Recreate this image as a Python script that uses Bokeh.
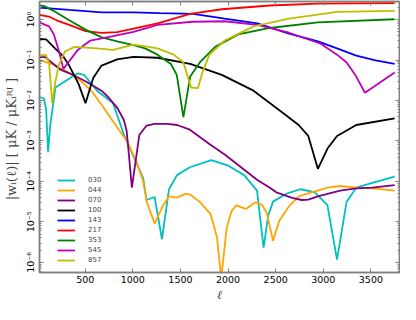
from bokeh.plotting import figure
from bokeh.models import (Range1d, FixedTicker, CustomJSTickFormatter, LinearAxis,
                          LogAxis, Legend, LegendItem)
from bokeh.embed import file_html
from bokeh.resources import INLINE

# ---------------- data ----------------
x_ticks = [500, 1000, 1500, 2000, 2500, 3000, 3500]
y_ticks = [1e-6, 1e-5, 1e-4, 1e-3, 1e-2, 1e-1, 1e0]
y_minor = [m * d for d in [1e-7, 1e-6, 1e-5, 1e-4, 1e-3, 1e-2, 1e-1, 1e0] for m in range(2, 10)]

labels = ["030", "044", "070", "100", "143", "217", "353", "545", "857"]
colors = ["#00bfbf", "#ffa500", "#800080", "#000000", "#0000ff", "#ff0000", "#008000", "#bf00bf", "#bfbf00"]

ell_030 = [19, 67, 90, 110, 133, 188, 288, 422, 490, 624, 792, 906, 1007, 1108, 1145, 1229, 1306, 1380,
           1464, 1599, 1824, 2002, 2169, 2304, 2373, 2421, 2472, 2607, 2758, 2909, 3043, 3144, 3245,
           3346, 3514, 3749]
w_030 = [0.0122, 0.0112, 0.0059, 0.00054, 0.0025, 0.021, 0.030, 0.0469, 0.0428, 0.0175, 0.0086, 0.00145,
         4.17e-4, 1.2e-4, 3.47e-5, 4.12e-5, 3.72e-6, 6.4e-5, 1.43e-4, 2.24e-4, 3.37e-4, 2.45e-4, 1.43e-4,
         5.9e-5, 2.3e-6, 1.41e-5, 3.16e-5, 4.9e-5, 6.4e-5, 5.4e-5, 2.6e-5, 1.17e-6, 3.16e-5, 7.0e-5,
         9.2e-5, 1.32e-4]

ell_044 = [19, 170, 322, 473, 574, 674, 836, 936, 1037, 1108, 1145, 1229, 1313, 1380, 1464, 1548, 1599,
           1700, 1817, 1884, 1928, 1985, 2036, 2086, 2187, 2287, 2355, 2405, 2472, 2539, 2640, 2741,
           2842, 2943, 3044, 3177, 3346, 3514, 3749]
w_044 = [0.1, 0.077, 0.050, 0.0279, 0.0163, 0.0077, 0.00215, 0.00102, 3.14e-4, 1.02e-4, 3.16e-5, 9.1e-6,
         2.42e-5, 4.27e-5, 3.97e-5, 4.9e-5, 4.76e-5, 3.16e-5, 1.55e-5, 4.1e-6, 4e-7, 6.9e-6, 1.85e-5,
         2.55e-5, 2.09e-5, 3.04e-5, 2.64e-5, 1.7e-5, 3.4e-6, 1.08e-5, 2.42e-5, 4.27e-5, 5.1e-5, 5.9e-5,
         7.0e-5, 7.7e-5, 7.0e-5, 6.7e-5, 5.9e-5]

ell_070 = [19, 80, 167, 234, 335, 503, 671, 735, 836, 906, 936, 990, 1068, 1145, 1229, 1363, 1464, 1599,
           1800, 1968, 2136, 2304, 2439, 2506, 2673, 2774, 2842, 2943, 3044, 3177, 3346, 3514, 3749]
w_070 = [0.118, 0.118, 0.080, 0.059, 0.047, 0.030, 0.0175, 0.0126, 0.0066, 0.0033, 0.00174, 7.0e-5,
         0.0014, 0.0024, 0.00263, 0.00263, 0.00248, 0.0019, 8.5e-4, 4.55e-4, 2.24e-4, 1.1e-4, 7.0e-5,
         5.37e-5, 3.9e-5, 3.47e-5, 3.55e-5, 4.27e-5, 4.9e-5, 5.9e-5, 6.76e-5, 7.0e-5, 8.1e-5]

ell_100 = [19, 90, 167, 268, 332, 432, 503, 584, 671, 836, 1007, 1259, 1602, 1934, 2267, 2570, 2741,
           2842, 2943, 3044, 3144, 3346, 3749]
w_100 = [0.331, 0.326, 0.212, 0.124, 0.073, 0.025, 0.0086, 0.0359, 0.073, 0.104, 0.12, 0.114, 0.080,
         0.043, 0.0175, 0.00505, 0.00248, 0.00133, 2.05e-4, 6.5e-4, 0.00133, 0.00248, 0.0036]

ell_143 = [19, 332, 674, 1007, 1280, 1632, 1965, 2307, 2640, 2943, 3144, 3346, 3548, 3749]
w_143 = [1.97, 1.73, 1.51, 1.51, 1.45, 1.38, 1.05, 0.81, 0.45, 0.288, 0.194, 0.129, 0.098, 0.080]

ell_217 = [19, 130, 200, 332, 503, 674, 836, 1007, 1259, 1602, 1934, 2439, 2943, 3749]
w_217 = [1.31, 1.16, 0.96, 0.74, 0.52, 0.47, 0.49, 0.60, 0.81, 1.38, 1.80, 2.23, 2.48, 2.55]

ell_353 = [19, 70, 170, 332, 503, 674, 836, 1007, 1128, 1259, 1400, 1461, 1531, 1602, 1703, 1864, 2106,
           2439, 2943, 3749]
w_353 = [2.26, 2.15, 1.64, 0.96, 0.565, 0.363, 0.29, 0.233, 0.194, 0.136, 0.080, 0.043, 0.00386, 0.039,
         0.087, 0.212, 0.432, 0.62, 0.85, 1.02]

ell_545 = [19, 120, 170, 221, 271, 322, 422, 553, 755, 1007, 1259, 1632, 1965, 2307, 2640, 2973, 3144,
           3245, 3346, 3437, 3749]
w_545 = [0.85, 0.68, 0.433, 0.178, 0.0605, 0.087, 0.178, 0.304, 0.376, 0.50, 0.74, 0.885, 0.91, 0.74,
         0.473, 0.253, 0.136, 0.087, 0.039, 0.0155, 0.049]

ell_857 = [19, 87, 120, 153, 188, 221, 288, 389, 624, 792, 1007, 1098, 1259, 1430, 1531, 1612, 1683,
           1733, 1804, 1965, 2267, 2640, 3144, 3749]
w_857 = [0.129, 0.136, 0.087, 0.0086, 0.030, 0.073, 0.163, 0.212, 0.194, 0.178, 0.24, 0.224, 0.194,
         0.136, 0.087, 0.0208, 0.0202, 0.051, 0.136, 0.304, 0.68, 1.05, 1.56, 1.64]

series_x = [ell_030, ell_044, ell_070, ell_100, ell_143, ell_217, ell_353, ell_545, ell_857]
series_y = [w_030, w_044, w_070, w_100, w_143, w_217, w_353, w_545, w_857]

# ---------------- figure ----------------
AX = "#7f7f7f"
p = figure(width=400, height=304, x_range=Range1d(20, 3800), y_range=Range1d(5.6e-7, 2.8),
           y_axis_type="log", output_backend="svg", toolbar_location=None,
           min_border_left=2, min_border_right=1, min_border_top=1, min_border_bottom=1)
p.grid.visible = False
p.outline_line_color = AX
p.outline_line_width = 1.5
p.background_fill_color = "white"

sup = CustomJSTickFormatter(code="""
const m = {"-":"\u207b","0":"\u2070","1":"\u00b9","2":"\u00b2","3":"\u00b3","4":"\u2074",
           "5":"\u2075","6":"\u2076","7":"\u2077","8":"\u2078","9":"\u2079"};
const e = Math.round(Math.log10(tick));
return "10" + String(e).split("").map(c => m[c]).join("");
""")
blank = CustomJSTickFormatter(code="return '';")

def style_axis(ax):
    ax.axis_line_color = AX
    ax.axis_line_width = 1.5
    ax.major_tick_line_color = AX
    ax.minor_tick_line_color = AX
    ax.major_tick_in = 4
    ax.major_tick_out = 0
    ax.minor_tick_in = 2
    ax.minor_tick_out = 0
    ax.major_label_text_font = "DejaVu Sans"
    ax.major_label_text_font_size = "9.5px"
    ax.major_label_text_color = "black"
    ax.major_label_standoff = 3

xa = p.xaxis[0]
xa.ticker = FixedTicker(ticks=x_ticks, minor_ticks=[])
style_axis(xa)
xa.axis_label = "ℓ"
xa.axis_label_text_font = "DejaVu Serif"
xa.axis_label_text_font_style = "italic"
xa.axis_label_text_font_size = "12px"
xa.axis_label_standoff = 2

ya = p.yaxis[0]
ya.ticker = FixedTicker(ticks=y_ticks, minor_ticks=y_minor)
ya.formatter = sup
style_axis(ya)
ya.major_label_orientation = "vertical"
ya.axis_label = "|wᵢ(ℓ)|  [ μK / μKᵢᴿᴶ ]"
ya.axis_label_text_font = "DejaVu Serif"
ya.axis_label_text_font_style = "normal"
ya.axis_label_text_font_size = "13px"
ya.axis_label_standoff = 4

top = LinearAxis(ticker=FixedTicker(ticks=x_ticks, minor_ticks=[]), formatter=blank)
style_axis(top)
top.major_label_standoff = 0
p.add_layout(top, "above")

right = LogAxis(ticker=FixedTicker(ticks=y_ticks, minor_ticks=y_minor), formatter=blank)
style_axis(right)
right.major_label_standoff = 0
p.add_layout(right, "right")

items = []
for lab, col, xs, ys in zip(labels, colors, series_x, series_y):
    r = p.line(xs, ys, line_color=col, line_width=1.8)
    items.append(LegendItem(label=lab, renderers=[r]))

leg = Legend(items=items, location=(18, 8), border_line_alpha=0, background_fill_alpha=0,
             label_text_font="DejaVu Sans", label_text_font_size="7px", glyph_width=18,
             glyph_height=8, label_height=8, spacing=2, label_standoff=13, padding=0, margin=0)
p.add_layout(leg)

open("out.html", "w").write(file_html(p, INLINE))
